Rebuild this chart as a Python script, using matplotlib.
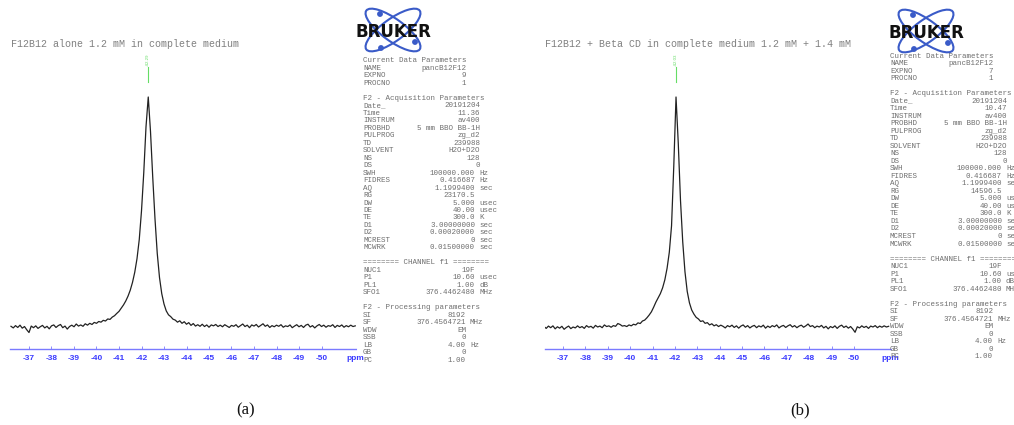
import numpy as np
import matplotlib
matplotlib.use('Agg')
import matplotlib.pyplot as plt
from matplotlib.patches import Ellipse, Circle
from matplotlib.transforms import Affine2D

W, H = 1014, 425

# ---------------- data ----------------
ppm_start_a = -36.2
ppm_start_b = -36.15
ppm_step = -0.1
intensity_a = [0.3, -0.4, 0.6, -0.2, 0.8, -0.5, 0.2, -1.2, -2.4, 0.4,
               -0.3, 0.5, -0.6, 0.1, 0.7, -0.4, 0.3, -0.8, 0.5, 0.9,
               -0.2, 0.6, 1.1, -0.3, 0.4, -0.9, 0.2, 0.8, 0.1, 1.3,
               0.4, 0.9, 0.3, 1.4, 0.8, 1.6, 1.1, 2.0, 1.6, 2.4,
               2.1, 2.9, 2.6, 3.5, 3.3, 4.3, 4.9, 5.9, 6.8, 8.2,
               9.6, 11.3, 13.4, 16.0, 19.4, 23.8, 29.7, 38.0, 50.5, 67.0,
               87.0, 100.0, 85.0, 65.0, 47.0, 32.0, 21.5, 14.5, 10.0, 7.0,
               5.3, 4.5, 3.4, 3.0, 2.1, 2.7, 1.6, 2.3, 1.2, 1.9,
               0.7, 1.5, 0.4, 1.0, 0.3, 1.2, 0.2, 0.9, -0.1, 0.9,
               0.5, 1.1, 0.2, 0.8, 0.1, 1.0, 0.4, -0.2, 0.7, 0.3,
               1.0, -0.1, 0.6, 1.3, 0.2, 0.8, -0.3, 0.9, 0.4, 1.1,
               0.0, 0.7, 1.4, 0.3, 0.9, -0.2, 0.6, 0.1, 0.8, 0.3,
               1.0, -0.1, 0.5, 0.2, 0.9, -0.3, 0.4, 1.0, 0.1, 0.7,
               -0.2, 0.8, 1.2, 0.0, 0.6, -0.4, 0.5, 1.1, 0.2, 0.8,
               -0.1, 0.6, 0.3, 1.0, -0.2, 0.7, 0.2, 0.9, -0.1, 0.6,
               0.1, 0.8, 0.2, 0.5]
intensity_b = [0.2, -0.6, 0.4, -0.3, 0.5, -0.8, 0.1, -0.5, 0.3, -1.0,
               -0.2, 0.4, -0.7, 0.0, -0.4, 0.5, -0.3, 0.2, -0.6, 0.6,
               -0.1, 0.3, -0.5, 0.7, 0.0, 0.4, -0.3, 0.9, 0.2, 0.5,
               -0.1, 0.6, 0.3, 1.5, 1.1, 0.4, 0.6, 0.2, 0.9, 0.5,
               1.2, 0.9, 1.8, 1.5, 2.6, 3.0, 4.0, 5.2, 6.6, 8.6,
               10.8, 12.6, 14.5, 17.0, 20.5, 25.5, 32.5, 44.0, 70.0, 100.0,
               80.0, 55.0, 37.0, 24.0, 15.5, 10.5, 7.4, 5.6, 4.2, 3.5,
               2.4, 2.7, 1.6, 1.9, 0.9, 1.4, 0.5, 1.0, 0.2, 0.8,
               0.3, -0.4, 0.6, 0.1, 0.8, -0.2, 0.5, -0.5, 0.4, 0.9,
               -0.1, 0.6, -0.4, 0.3, 0.7, -0.3, 0.5, 0.0, 0.8, -0.5,
               0.4, -0.2, 0.6, 0.1, 0.9, -0.4, 0.3, 0.7, -0.2, 0.5,
               1.0, 0.0, 0.6, -0.3, 0.4, 0.8, -0.1, 0.5, 1.3, 0.2,
               0.6, -0.3, 0.4, 0.0, 0.7, -0.4, 0.3, -0.8, 0.2, -0.3,
               0.5, -0.6, 0.3, 0.8, -0.2, 0.4, -0.5, 0.2, -0.9, -2.3,
               0.1, -0.4, 0.5, -0.2, 0.3, -0.6, 0.4, 0.0, 0.6, -0.3,
               0.4, -0.1, 0.5, 0.0, 0.3]
tick_ppm = [-37, -38, -39, -40, -41, -42, -43, -44, -45, -46, -47, -48, -49, -50]
peak_ppm_a, peak_label_a = -42.29, "-42.29"
peak_ppm_b, peak_label_b = -42.03, "-42.03"
title_a = "F12B12 alone 1.2 mM in complete medium"
title_b = "F12B12 + Beta CD in complete medium 1.2 mM + 1.4 mM"
caption_a, caption_b = "(a)", "(b)"

expno_a, expno_b = "9", "7"
time_a, time_b = "11.36", "10.47"
rg_a, rg_b = "23170.5", "14596.5"


def param_lines(expno, time, rg):
    return [
        ("H", "Current Data Parameters"),
        ("C", "NAME", "pancB12F12"),
        ("C", "EXPNO", expno),
        ("C", "PROCNO", "1"),
        None,
        ("H", "F2 - Acquisition Parameters"),
        ("A", "Date_", "20191204"),
        ("A", "Time", time),
        ("A", "INSTRUM", "av400"),
        ("A", "PROBHD", "5 mm BBO BB-1H"),
        ("A", "PULPROG", "zg_d2"),
        ("A", "TD", "239988"),
        ("A", "SOLVENT", "H2O+D2O"),
        ("A", "NS", "128"),
        ("A", "DS", "0"),
        ("U", "SWH", "100000.000", "Hz"),
        ("U", "FIDRES", "0.416687", "Hz"),
        ("U", "AQ", "1.1999400", "sec"),
        ("U", "RG", rg, ""),
        ("U", "DW", "5.000", "usec"),
        ("U", "DE", "40.00", "usec"),
        ("U", "TE", "300.0", "K"),
        ("U", "D1", "3.00000000", "sec"),
        ("U", "D2", "0.00020000", "sec"),
        ("U", "MCREST", "0", "sec"),
        ("U", "MCWRK", "0.01500000", "sec"),
        None,
        ("H", "======== CHANNEL f1 ========"),
        ("U", "NUC1", "19F", ""),
        ("U", "P1", "10.60", "usec"),
        ("U", "PL1", "1.00", "dB"),
        ("U", "SFO1", "376.4462480", "MHz"),
        None,
        ("H", "F2 - Processing parameters"),
        ("P", "SI", "8192", ""),
        ("P", "SF", "376.4564721", "MHz"),
        ("P", "WDW", "EM", ""),
        ("P", "SSB", "0", ""),
        ("P", "LB", "4.00", "Hz"),
        ("P", "GB", "0", ""),
        ("P", "PC", "1.00", ""),
    ]


# ---------------- figure ----------------
fig = plt.figure(figsize=(W / 100, H / 100), dpi=100)
fig.patch.set_facecolor('white')

MONO = 'Liberation Mono'
TXT_GRAY = '#6e6e6e'
AX_BLUE = '#3a3aff'


def fx(px):
    return px / W


def fy(py):
    return 1 - py / H


def spectrum_panel(x0, x1, ref_px, px_per_ppm, ppm_start, values, peak_ppm, peak_label):
    y_top, y_bot, base_py, px_per_unit = 40, 349, 327, 2.3
    ax = fig.add_axes([fx(x0), fy(y_bot), (x1 - x0) / W, (y_bot - y_top) / H])
    ppm_of = lambda px: -37 - (px - ref_px) / px_per_ppm
    ax.set_xlim(ppm_of(x0), ppm_of(x1))
    ax.set_ylim((base_py - y_bot) / px_per_unit, (base_py - y_top) / px_per_unit)
    ppm = ppm_start + ppm_step * np.arange(len(values))
    ax.plot(ppm, values, color='#222222', lw=0.9)
    for s in ['top', 'left', 'right']:
        ax.spines[s].set_visible(False)
    ax.spines['bottom'].set_color('#7a7aff')
    ax.spines['bottom'].set_linewidth(1.0)
    ax.spines['bottom'].set_linestyle((0, (1, 1)))
    ax.set_yticks([])
    ax.set_xticks(tick_ppm)
    ax.set_xticklabels([str(t) for t in tick_ppm])
    ax.tick_params(axis='x', which='major', direction='in', length=2.5, width=0.6,
                   color='#7a7aff', labelcolor=AX_BLUE, labelsize=6, pad=4)
    for lab in ax.get_xticklabels():
        lab.set_fontweight('bold')
        lab.set_fontfamily('Liberation Sans')
    ax.set_facecolor('none')
    iy = lambda py: (base_py - py) / px_per_unit
    ax.plot([peak_ppm, peak_ppm], [iy(67), iy(82)], color='#66dd66', lw=0.8)
    ax.text(peak_ppm, iy(66), peak_label, rotation=90, ha='center', va='bottom',
            fontsize=3.2, color='#66dd66', family='Liberation Sans')
    fig.text(fx(x1 - 10), fy(358), 'ppm', ha='left', va='center', fontsize=6,
             fontweight='bold', color=AX_BLUE, family='Liberation Sans')
    return ax


spectrum_panel(10, 356, 29, 22.5, ppm_start_a, intensity_a, peak_ppm_a, peak_label_a)
spectrum_panel(545, 891, 563, 22.38, ppm_start_b, intensity_b, peak_ppm_b, peak_label_b)

fig.text(fx(11), fy(44), title_a, ha='left', va='center', fontsize=7.2,
         family=MONO, color='#808080')
fig.text(fx(545), fy(44), title_b, ha='left', va='center', fontsize=7.2,
         family=MONO, color='#808080')


def bruker_logo_px(cx, cy):
    trans = Affine2D().scale(1 / W, -1 / H).translate(0, 1) + fig.transFigure
    for ang in (36, -36):
        e = Ellipse((cx, cy), 66, 22, angle=ang, fill=False, ec='#3a5bc8', lw=1.5,
                    transform=trans)
        fig.add_artist(e)
    for dx, dy in ((-13, -16), (-12, 18), (22, 12)):
        c = Circle((cx + dx, cy + dy), 2.2, color='#3a5bc8', transform=trans)
        fig.add_artist(c)
    fig.text(fx(cx), fy(cy + 2), 'BRUKER', ha='center', va='center', fontsize=12,
             fontweight='bold', color='#111111', family='DejaVu Sans')


bruker_logo_px(393, 30)
bruker_logo_px(926, 31)


def param_block(x_left, y_first, dy, lines):
    fs = 5.4
    for k, ln in enumerate(lines):
        if ln is None:
            continue
        y = fy(y_first + dy * k)
        kind = ln[0]
        fig.text(fx(x_left), y, ln[1], ha='left', va='center', fontsize=fs,
                 family=MONO, color=TXT_GRAY)
        if kind == 'H':
            continue
        if kind == 'C':
            xr = x_left + 103
        elif kind == 'A':
            xr = x_left + 117
        elif kind == 'U':
            xr = x_left + 112
        else:
            xr = x_left + 103
        fig.text(fx(xr), y, ln[2], ha='right', va='center', fontsize=fs,
                 family=MONO, color=TXT_GRAY)
        if len(ln) > 3 and ln[3]:
            fig.text(fx(xr + 4), y, ln[3], ha='left', va='center', fontsize=fs,
                     family=MONO, color=TXT_GRAY)


param_block(363, 61, 7.475, param_lines(expno_a, time_a, rg_a))
param_block(890, 56, 7.52, param_lines(expno_b, time_b, rg_b))

fig.text(fx(246), fy(410), caption_a, ha='center', va='center', fontsize=12,
         family='Liberation Serif', color='#111111')
fig.text(fx(800), fy(410), caption_b, ha='center', va='center', fontsize=12,
         family='Liberation Serif', color='#111111')

fig.savefig('out.png', dpi=100, facecolor='white')
